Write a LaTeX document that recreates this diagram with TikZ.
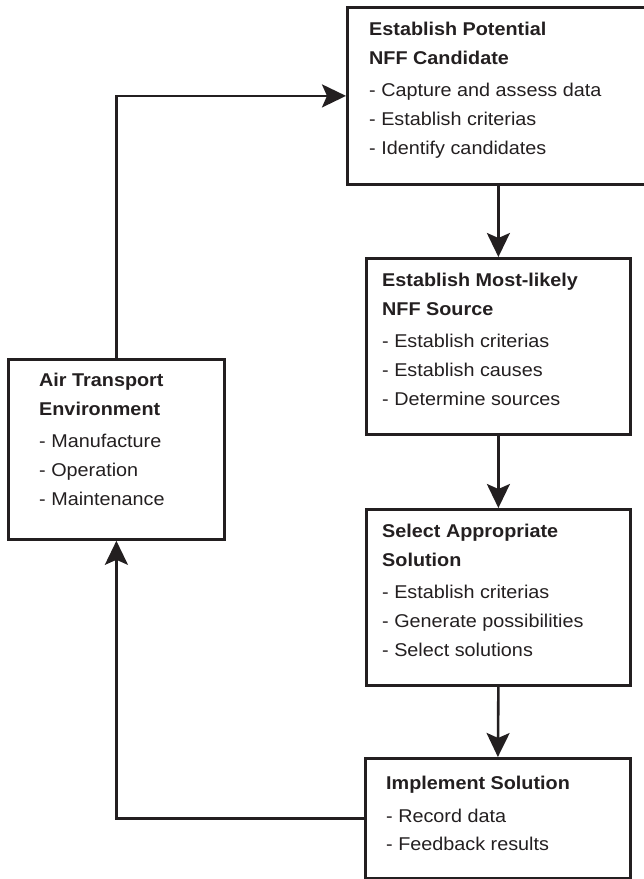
\documentclass[tikz,border=0pt]{standalone}
\usepackage{fontspec}
\setmainfont{Liberation Sans}[FakeStretch=1.07]
\usetikzlibrary{arrows.meta}
\definecolor{ink}{RGB}{35,31,32}

\begin{document}
\begin{tikzpicture}[x=1pt,y=-1pt,
  box/.style={draw=ink, line width=2.8pt, anchor=north west, inner sep=0pt},
  txt/.style={anchor=north west, inner sep=0pt, align=left, text=ink, font=\fontsize{18.5}{28.6}\selectfont},
  flow/.style={draw=ink, line width=2.6pt, -{Stealth[length=24pt,width=23pt,inset=5pt]}}]
\useasboundingbox (0,0) rectangle (644,879);

% boxes
\node[box, minimum width=302pt, minimum height=177pt] (cand) at (346,6) {};
\node[box, minimum width=264pt, minimum height=176pt] (src) at (365,257) {};
\node[box, minimum width=264pt, minimum height=176pt] (sol) at (365,508) {};
\node[box, minimum width=265pt, minimum height=120pt] (impl) at (364,757) {};
\node[box, minimum width=216pt, minimum height=180pt] (env) at (7,358) {};

% texts
\node[txt] (candtxt) at ([xshift=23pt,yshift=-16pt]cand.north west)
  {\textbf{Establish Potential}\\\textbf{NFF Candidate}\\[4pt]- Capture and assess data\\- Establish criterias\\- Identify candidates};
\node[txt] (srctxt) at ([xshift=17pt,yshift=-16pt]src.north west)
  {\textbf{Establish Most-likely}\\\textbf{NFF Source}\\[4pt]- Establish criterias\\- Establish causes\\- Determine sources};
\node[txt] (soltxt) at ([xshift=17pt,yshift=-16pt]sol.north west)
  {\textbf{Select Appropriate}\\\textbf{Solution}\\[4pt]- Establish criterias\\- Generate possibilities\\- Select solutions};
\node[txt] (impltxt) at ([xshift=22pt,yshift=-19pt]impl.north west)
  {\textbf{Implement Solution}\\[4pt]- Record data\\- Feedback results};
\node[txt] (envtxt) at ([xshift=32pt,yshift=-15pt]env.north west)
  {\textbf{Air Transport}\\\textbf{Environment}\\[4pt]- Manufacture\\- Operation\\- Maintenance};

% connectors
\draw[flow] (env.north) |- (cand.west);
\draw[flow] (cand.south) -- (src.north);
\draw[flow] (src.south) -- (sol.north);
\draw[flow] (sol.south) -- (impl.north);
\draw[flow] (impl.west) -| (env.south);
\end{tikzpicture}
\end{document}
